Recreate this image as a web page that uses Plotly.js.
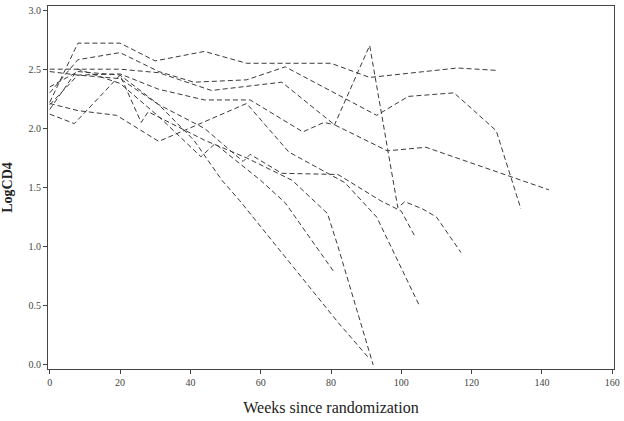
<!DOCTYPE html>
<html>
<head>
<meta charset="utf-8">
<script src="https://cdn.plot.ly/plotly-3.0.1.min.js"></script>
<style>
  body { margin: 0; padding: 0; background: #fff; }
  #chart { width: 624px; height: 421px; }
</style>
</head>
<body>
<div id="chart"></div>
<script>
// one entry per subject: visit weeks and LogCD4
const weeks1 = [0, 8, 20, 30, 44, 56, 80, 91, 116, 127];
const cd4_1 = [2.22, 2.72, 2.72, 2.57, 2.65, 2.55, 2.55, 2.43, 2.51, 2.49];

const weeks2 = [0, 8, 20, 31, 41, 56, 67, 93, 102, 115, 127, 134];
const cd4_2 = [2.30, 2.58, 2.64, 2.48, 2.39, 2.41, 2.52, 2.11, 2.27, 2.30, 1.98, 1.32];

const weeks3 = [0, 8, 20, 31, 46, 66, 81, 96, 107, 142];
const cd4_3 = [2.50, 2.50, 2.50, 2.47, 2.32, 2.39, 2.03, 1.81, 1.84, 1.48];

const weeks4 = [0, 8, 20, 31, 44, 57, 72, 78, 81, 91, 99, 101, 106, 110, 117];
const cd4_4 = [2.20, 2.45, 2.46, 2.33, 2.24, 2.24, 1.97, 2.05, 2.03, 2.70, 1.33, 1.38, 1.32, 1.25, 0.95];

const weeks5 = [0, 8, 20, 31, 44, 55, 57, 66, 82, 94, 100, 104];
const cd4_5 = [2.35, 2.48, 2.45, 2.20, 2.00, 1.72, 1.78, 1.62, 1.61, 1.39, 1.30, 1.08];

const weeks6 = [0, 8, 19, 31, 42, 56, 68, 84, 93, 105];
const cd4_6 = [2.21, 2.15, 2.11, 1.89, 2.03, 2.21, 1.80, 1.54, 1.25, 0.51];

const weeks7 = [0, 7, 20, 26, 28, 44, 56, 69, 79, 82, 92];
const cd4_7 = [2.12, 2.04, 2.45, 2.05, 2.14, 1.90, 1.75, 1.56, 1.28, 1.00, 0.00];

const weeks8 = [0, 8, 20, 31, 41, 49, 54, 82, 91];
const cd4_8 = [2.48, 2.45, 2.42, 2.20, 1.90, 1.56, 1.39, 0.36, 0.05];

const weeks9 = [0, 8, 20, 31, 43, 47, 60, 67, 81];
const cd4_9 = [2.16, 2.50, 2.38, 2.10, 1.76, 1.87, 1.56, 1.37, 0.78];

const subjects = [
    [weeks1, cd4_1], [weeks2, cd4_2], [weeks3, cd4_3],
    [weeks4, cd4_4], [weeks5, cd4_5], [weeks6, cd4_6],
    [weeks7, cd4_7], [weeks8, cd4_8], [weeks9, cd4_9]
];

const xTicks = [0, 20, 40, 60, 80, 100, 120, 140, 160];
const yTicks = [0.0, 0.5, 1.0, 1.5, 2.0, 2.5, 3.0];

const serif = '"Liberation Serif", "DejaVu Serif", serif';

const traces = subjects.map(function (s) {
    return {
        x: s[0],
        y: s[1],
        mode: 'lines',
        line: { color: '#3a3a3a', width: 1, dash: '5px,3px' },
        hoverinfo: 'skip'
    };
});

const layout = {
    width: 624,
    height: 421,
    margin: { l: 48, r: 10, t: 6, b: 52 },
    paper_bgcolor: '#ffffff',
    plot_bgcolor: '#ffffff',
    showlegend: false,
    font: { family: serif, color: '#333333' },
    xaxis: {
        range: [-0.5, 160.5],
        tickvals: xTicks,
        ticktext: xTicks.map(String),
        ticks: 'outside',
        ticklen: 4,
        tickcolor: '#444',
        tickfont: { family: serif, size: 10, color: '#444' },
        showgrid: false,
        zeroline: false,
        showline: true,
        linecolor: '#444',
        linewidth: 1,
        mirror: true,
        title: {
            text: 'Weeks since randomization',
            font: { family: serif, size: 16, color: '#222' },
            standoff: 14
        }
    },
    yaxis: {
        range: [-0.034, 3.034],
        tickvals: yTicks,
        ticktext: yTicks.map(function (v) { return v.toFixed(1); }),
        ticks: 'outside',
        ticklen: 4,
        tickcolor: '#444',
        tickfont: { family: serif, size: 10, color: '#444' },
        showgrid: false,
        zeroline: false,
        showline: true,
        linecolor: '#444',
        linewidth: 1,
        mirror: true,
        title: {
            text: '<b>LogCD4</b>',
            font: { family: serif, size: 14, color: '#222' },
            standoff: 12
        }
    }
};

Plotly.newPlot('chart', traces, layout, { staticPlot: true, displayModeBar: false });
</script>
</body>
</html>
